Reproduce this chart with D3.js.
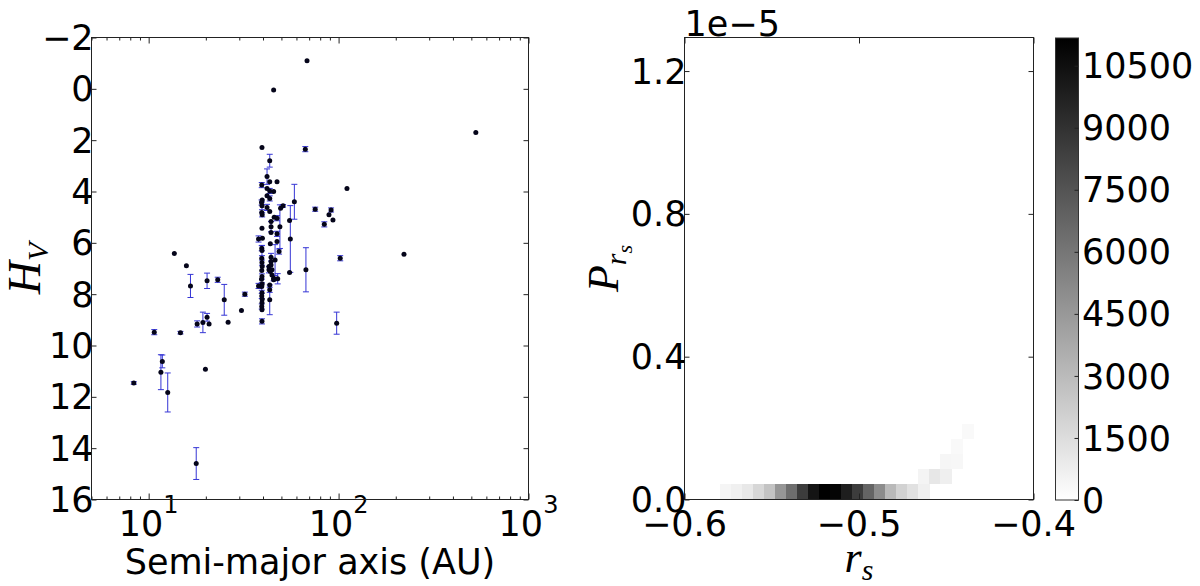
<!DOCTYPE html>
<html>
<head>
<meta charset="utf-8">
<script src="https://cdn.jsdelivr.net/npm/d3@7"></script>
<style>
  body { margin: 0; background: #fff; }
  text { font-family: "DejaVu Sans", sans-serif; fill: #000; }
  .math { font-family: "Liberation Serif", serif; font-style: italic; }
</style>
</head>
<body>
<svg id="chart"></svg>
<script>
// ---- Left panel data: semi-major axis (AU), absolute magnitude H_V, error on H_V
const semiMajor = [8.35, 10.7, 11.6, 11.8, 12.6, 13.65, 14.7, 15.8, 16.6, 17.8, 18.0, 19.3, 19.9, 20.3, 20.3, 20.8, 23.1, 25.0, 26.2, 30.8, 32.1,
  39.5, 39.4, 39.6, 39.3, 39.5, 39.4, 39.6, 39.5, 39.7, 39.4, 39.5, 39.4, 39.5, 39.6, 39.4, 39.5, 39.3, 39.6, 39.4, 39.5, 39.4, 39.6, 39.5, 39.4, 39.5, 39.5, 37.9, 37.9,
  43.4, 42.0, 43.4, 42.0, 43.4, 45.5, 47.4, 42.0, 43.4, 42.0, 43.4, 44.1, 44.1, 44.1, 43.7, 44.1, 44.1, 44.1, 43.0, 43.0, 43.7, 44.6, 44.6, 45.5, 43.4, 43.4, 43.4,
  45.8, 47.4, 47.4, 47.4, 48.6, 46.3, 47.8, 49.1, 49.5, 51.0, 45.5,
  55.2, 55.7, 55.2, 58.5, 67.3, 66.8, 68.2, 45.5, 75.3, 84.1, 89.0, 91.3, 93.4, 102, 110.7, 221, 97.7, 528];
const hMag = [11.46, 9.48, 11.04, 10.62, 11.83, 6.42, 9.5, 6.89, 7.68, 14.6, 9.16, 9.1, 10.93, 8.9, 7.48, 9.16, 7.44, 8.22, 9.09, 8.64, 8.0,
  2.29, 3.75, 4.33, 4.43, 4.56, 4.82, 4.91, 5.43, 5.82, 6.21, 6.30, 6.6, 6.77, 6.92, 7.08, 7.31, 7.42, 7.6, 7.7, 7.94, 8.07, 8.2, 8.33, 8.48, 8.61, 9.06, 5.85, 7.68,
  2.8, 3.42, 3.62, 3.88, 3.98, 4.0, 3.62, 4.17, 4.27, 4.62, 4.78, 5.17, 5.37, 5.6, 6.04, 6.56, 6.73, 6.86, 6.92, 7.05, 7.12, 7.05, 7.25, 7.38, 7.64, 7.83, 8.22,
  5.0, 5.04, 5.65, 5.95, 6.34, 6.67, 7.4, 5.37, 4.65, 4.56, 7.44,
  5.13, 5.85, 7.16, 4.4, 7.05, 2.35, -1.09, 0.05, 4.69, 5.28, 4.91, 4.72, 5.11, 6.6, 3.88, 6.44, 9.13, 1.70];
const hErr = [0.05, 0.1, 0.68, 0.25, 0.76, 0, 0.05, 0, 0.45, 0.62, 0.12, 0.4, 0, 0.15, 0.3, 0, 0.1, 0.6, 0, 0, 0.08,
  0, 0.1, 0, 0.1, 0.15, 0, 0.08, 0, 0, 0.1, 0.2, 0, 0.1, 0, 0, 0.1, 0, 0, 0.15, 0, 0.1, 0, 0, 0.1, 0, 0.1, 0.12, 0.1,
  0.25, 0.3, 0, 0, 0.1, 0, 0, 0, 0.1, 0.12, 0, 0, 0.2, 0, 0, 0.15, 0, 0, 0, 0.12, 0, 0, 0, 0.1, 0, 0.1, 0.58,
  0, 0.1, 0.1, 0, 0.1, 0.6, 0.2, 0.85, 0, 0.05, 0,
  0, 1.3, 0, 0.68, 0.86, 0.1, 0, 0, 0.08, 0.1, 0, 0.08, 0, 0.1, 0, 0, 0.43, 0];

const hTicks = [-2, 0, 2, 4, 6, 8, 10, 12, 14, 16];
const aMajorTicks = [10, 100, 1000];

// ---- Right panel data: 2D histogram cells (r_s left edge, P lower edge in 1e-5, count)
const cellRs = [-0.5794, -0.5731, -0.5668, -0.5605, -0.5542, -0.5479, -0.5416, -0.5353, -0.5290, -0.5227,
  -0.5164, -0.5101, -0.5038, -0.4975, -0.4912, -0.4849, -0.4786, -0.4723, -0.4660,
  -0.4660, -0.4597, -0.4534, -0.4534, -0.4471, -0.4471, -0.4408];
const cellP = [0, 0, 0, 0, 0, 0, 0, 0, 0, 0,
  0, 0, 0, 0, 0, 0, 0, 0, 0,
  0.0422, 0.0422, 0.0422, 0.0844, 0.0844, 0.1266, 0.1688];
const cellCount = [440, 660, 1000, 1750, 2630, 4600, 6350, 8540, 10290, 11170,
  10950, 9860, 8540, 6790, 5040, 3070, 1970, 1310, 660,
  480, 1050, 700, 400, 330, 280, 260];
const rsBinWidth = 0.0063;
const pBinHeight = 0.0422;
const countMax = 11170;

const rsTicks = [-0.6, -0.5, -0.4];
const pTicks = [0, 0.4, 0.8, 1.2];
const cbarTicks = [0, 1500, 3000, 4500, 6000, 7500, 9000, 10500];

// ---- Layout
const width = 1200, height = 586;
const fs = 35;
const L = { left: 91.5, right: 528.5, top: 37.5, bottom: 499.5 };
const R = { left: 684.5, right: 1033.5, top: 37.5, bottom: 499.5 };
const CB = { left: 1055.5, right: 1078.5, top: 38, bottom: 500 };

const svg = d3.select('#chart')
  .attr('width', width)
  .attr('height', height);

// ================= Left panel =================
const xA = d3.scaleLog().domain([5, 1000]).range([L.left, L.right]);
const yH = d3.scaleLinear().domain([-2, 16]).range([L.top, L.bottom]);

const minorA = xA.ticks().filter(d => !aMajorTicks.includes(d));

function tickAxis(axis, tx, ty) {
  svg.append('g')
    .attr('transform', `translate(${tx},${ty})`)
    .call(axis)
    .call(g => g.select('.domain').remove())
    .selectAll('line').attr('stroke', '#222');
}

tickAxis(d3.axisBottom(xA).tickValues(aMajorTicks).tickSize(-6).tickFormat(''), 0, L.bottom);
tickAxis(d3.axisBottom(xA).tickValues(minorA).tickSize(-3).tickFormat(''), 0, L.bottom);
tickAxis(d3.axisTop(xA).tickValues(aMajorTicks).tickSize(-6).tickFormat(''), 0, L.top);
tickAxis(d3.axisTop(xA).tickValues(minorA).tickSize(-3).tickFormat(''), 0, L.top);
tickAxis(d3.axisLeft(yH).tickValues(hTicks).tickSize(-5).tickFormat(''), L.left, 0);
tickAxis(d3.axisRight(yH).tickValues(hTicks).tickSize(-5).tickFormat(''), L.right, 0);

// y tick labels
svg.append('g').selectAll('text')
  .data(hTicks).enter().append('text')
  .attr('x', L.left + 2)
  .attr('y', d => yH(d) + fs * 0.36)
  .attr('text-anchor', 'end')
  .attr('font-size', fs)
  .text(d => d3.format('d')(d));

// x tick labels 10^n
const xl = svg.append('g').selectAll('text')
  .data(aMajorTicks).enter().append('text')
  .attr('x', d => xA(d))
  .attr('y', 536)
  .attr('text-anchor', 'middle')
  .attr('font-size', fs);
xl.append('tspan').text('10');
xl.append('tspan').attr('font-size', 24).attr('dy', -23).text(d => Math.round(Math.log10(d)));

// error bars
const pts = semiMajor.map((a, i) => ({ a, h: hMag[i], e: hErr[i] }));
const eb = svg.append('g').attr('stroke', '#3535d5').attr('stroke-width', 1)
  .selectAll('g').data(pts.filter(d => d.e > 0)).enter().append('g');
eb.append('line')
  .attr('x1', d => xA(d.a)).attr('x2', d => xA(d.a))
  .attr('y1', d => yH(d.h - d.e)).attr('y2', d => yH(d.h + d.e));
eb.append('line')
  .attr('x1', d => xA(d.a) - 3).attr('x2', d => xA(d.a) + 3)
  .attr('y1', d => yH(d.h - d.e)).attr('y2', d => yH(d.h - d.e));
eb.append('line')
  .attr('x1', d => xA(d.a) - 3).attr('x2', d => xA(d.a) + 3)
  .attr('y1', d => yH(d.h + d.e)).attr('y2', d => yH(d.h + d.e));

// points
svg.append('g').selectAll('circle')
  .data(pts).enter().append('circle')
  .attr('cx', d => xA(d.a))
  .attr('cy', d => yH(d.h))
  .attr('r', 2.5)
  .attr('fill', '#05051a');

// frame
svg.append('rect')
  .attr('x', L.left).attr('y', L.top)
  .attr('width', L.right - L.left).attr('height', L.bottom - L.top)
  .attr('fill', 'none').attr('stroke', '#222').attr('stroke-width', 1);

// axis labels
svg.append('text')
  .attr('x', (L.left + L.right) / 2).attr('y', 574)
  .attr('text-anchor', 'middle').attr('font-size', fs)
  .text('Semi-major axis (AU)');

const hl = svg.append('text')
  .attr('class', 'math')
  .attr('transform', `translate(40,${(L.top + L.bottom) / 2}) rotate(-90)`)
  .attr('text-anchor', 'middle');
hl.append('tspan').attr('font-size', 46).text('H');
hl.append('tspan').attr('font-size', 30).attr('dy', 8).text('V');

// ================= Right panel =================
const xR = d3.scaleLinear().domain([-0.6, -0.4]).range([R.left, R.right]);
const yP = d3.scaleLinear().domain([0, 1.294]).range([R.bottom, R.top]);
const shade = d3.scaleLinear().domain([0, countMax]).range(['#ffffff', '#000000']);

const cells = cellRs.map((r, i) => ({ r, p: cellP[i], c: cellCount[i] }));
svg.append('g').attr('shape-rendering', 'crispEdges')
  .selectAll('rect').data(cells).enter().append('rect')
  .attr('x', d => xR(d.r))
  .attr('y', d => yP(d.p + pBinHeight))
  .attr('width', d => xR(d.r + rsBinWidth) - xR(d.r) + 0.5)
  .attr('height', d => yP(d.p) - yP(d.p + pBinHeight))
  .attr('fill', d => shade(d.c));

tickAxis(d3.axisBottom(xR).tickValues(rsTicks).tickSize(-6).tickFormat(''), 0, R.bottom);
tickAxis(d3.axisTop(xR).tickValues(rsTicks).tickSize(-6).tickFormat(''), 0, R.top);
tickAxis(d3.axisLeft(yP).tickValues(pTicks).tickSize(-5).tickFormat(''), R.left, 0);
tickAxis(d3.axisRight(yP).tickValues(pTicks).tickSize(-5).tickFormat(''), R.right, 0);

svg.append('rect')
  .attr('x', R.left).attr('y', R.top)
  .attr('width', R.right - R.left).attr('height', R.bottom - R.top)
  .attr('fill', 'none').attr('stroke', '#222').attr('stroke-width', 1);

svg.append('g').selectAll('text')
  .data(pTicks).enter().append('text')
  .attr('x', R.left + 2)
  .attr('y', d => yP(d) + fs * 0.36)
  .attr('text-anchor', 'end')
  .attr('font-size', fs)
  .text(d => d3.format('.1f')(d));

svg.append('g').selectAll('text')
  .data(rsTicks).enter().append('text')
  .attr('x', d => xR(d))
  .attr('y', 536)
  .attr('text-anchor', 'middle')
  .attr('font-size', fs)
  .text(d => d3.format('.1f')(d));

svg.append('text')
  .attr('x', R.left).attr('y', 36)
  .attr('font-size', fs)
  .text('1e\u22125');

const rl = svg.append('text')
  .attr('class', 'math')
  .attr('x', (R.left + R.right) / 2).attr('y', 572)
  .attr('text-anchor', 'middle');
rl.append('tspan').attr('font-size', 44).text('r');
rl.append('tspan').attr('font-size', 30).attr('dy', 8).text('s');

const pl = svg.append('text')
  .attr('class', 'math')
  .attr('transform', `translate(618,${(R.top + R.bottom) / 2}) rotate(-90)`)
  .attr('text-anchor', 'middle');
pl.append('tspan').attr('font-size', 44).text('P');
pl.append('tspan').attr('font-size', 30).attr('dy', 8).text('r');
pl.append('tspan').attr('font-size', 22).attr('dy', 6).text('s');

// ================= Colorbar =================
const yC = d3.scaleLinear().domain([0, countMax]).range([CB.bottom, CB.top]);
const grad = svg.append('defs').append('linearGradient')
  .attr('id', 'cbgrad').attr('x1', 0).attr('y1', 1).attr('x2', 0).attr('y2', 0);
grad.append('stop').attr('offset', 0).attr('stop-color', shade(0));
grad.append('stop').attr('offset', 1).attr('stop-color', shade(countMax));

svg.append('rect')
  .attr('x', CB.left).attr('y', CB.top)
  .attr('width', CB.right - CB.left).attr('height', CB.bottom - CB.top)
  .attr('fill', 'url(#cbgrad)')
  .attr('stroke', '#333').attr('stroke-width', 1);

tickAxis(d3.axisRight(yC).tickValues(cbarTicks).tickSize(-4).tickFormat(''), CB.right, 0);

svg.append('g').selectAll('text')
  .data(cbarTicks).enter().append('text')
  .attr('x', 1082)
  .attr('y', d => yC(d) + fs * 0.36)
  .attr('font-size', fs)
  .text(d => d);
</script>
</body>
</html>
